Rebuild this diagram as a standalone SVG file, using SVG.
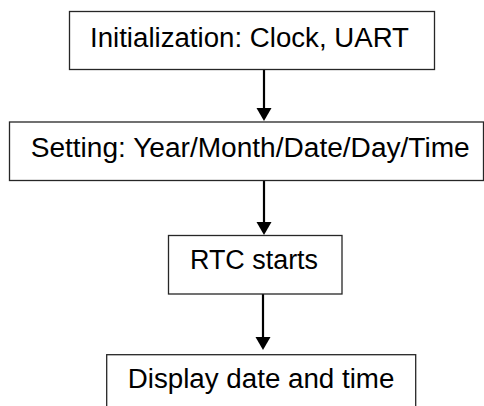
<svg xmlns="http://www.w3.org/2000/svg" width="484" height="406" viewBox="0 0 484 406">
<style>
.box{fill:#fff;stroke:#262626;stroke-width:1.3}
.lbl{font-family:"Liberation Sans",Arial,sans-serif;font-size:27px;fill:#000}
.conn{stroke:#000;stroke-width:2.2;fill:none}
.head{fill:#000}
</style>
<rect width="484" height="406" fill="#fff"/>
<g id="connectors">
<line class="conn" x1="264" y1="69.5" x2="264" y2="110"/>
<path class="head" d="M256.5,108 L271.5,108 L264,121 Z"/>
<line class="conn" x1="264" y1="180.5" x2="264" y2="224"/>
<path class="head" d="M256.5,222 L271.5,222 L264,235 Z"/>
<line class="conn" x1="263" y1="294" x2="263" y2="339"/>
<path class="head" d="M255.5,337 L270.5,337 L263,350 Z"/>
</g>
<g id="node-init">
<rect class="box" x="69.5" y="11.5" width="365" height="58"/>
<text class="lbl" x="90" y="46.7" textLength="319" lengthAdjust="spacingAndGlyphs">Initialization: Clock, UART</text>
</g>
<g id="node-setting">
<rect class="box" x="9.5" y="122" width="474" height="58.5"/>
<text class="lbl" x="30.7" y="156.7" textLength="439" lengthAdjust="spacingAndGlyphs">Setting: Year/Month/Date/Day/Time</text>
</g>
<g id="node-rtc">
<rect class="box" x="168.5" y="235.5" width="173.5" height="58.5"/>
<text class="lbl" x="190" y="269" textLength="128" lengthAdjust="spacingAndGlyphs">RTC starts</text>
</g>
<g id="node-display">
<rect class="box" x="106.7" y="354.7" width="309" height="70"/>
<text class="lbl" x="127.7" y="388" textLength="266.7" lengthAdjust="spacingAndGlyphs">Display date and time</text>
</g>
</svg>
